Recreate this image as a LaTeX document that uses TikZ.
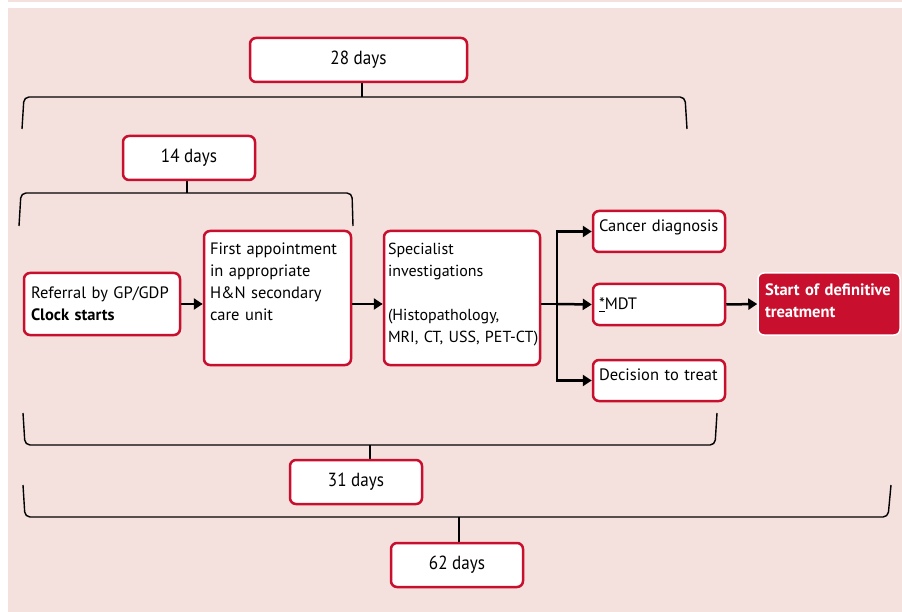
\documentclass[tikz,border=0pt]{standalone}
\usepackage{fontspec}
\setmainfont{PT Sans}
\newfontfamily\daysfont[FakeStretch=0.9]{PT Sans}
\usepackage{xcolor}
\usetikzlibrary{arrows.meta}
\definecolor{bgpink}{RGB}{244,224,220}
\definecolor{nhsred}{RGB}{200,16,46}

\begin{document}
\begin{tikzpicture}[x=1pt, y=-1pt,
    box/.style={draw=nhsred, line width=2.5pt, fill=white, rounded corners=6pt,
        inner xsep=6pt, align=left, font=\fontsize{16.5}{22}\selectfont},
    daybox/.style={box, align=center, minimum width=132pt, minimum height=44pt,
        font=\daysfont\fontsize{19}{22}\selectfont},
    brace/.style={line width=1.4pt, rounded corners=5pt},
    arr/.style={line width=2.5pt, -{Triangle[length=9pt, width=11pt]}}]
     \useasboundingbox (0,0) rectangle (902,612);
     \fill[white] (0,0) rectangle (902,612);
     \fill[bgpink] (8,0) rectangle (902,2);
     \fill[bgpink] (8,8) rectangle (902,612);

     \node[box, minimum width=156pt, minimum height=62pt, text width=142pt] (ref) at (102,304)
         {Referral by GP/GDP\\\textbf{Clock starts}};
     \node[box, minimum width=147pt, minimum height=134pt, text width=135pt, text depth=98pt] (first) at (277.5,298)
         {First appointment\\in appropriate\\H\&N secondary\\care unit};
     \node[box, inner xsep=4pt, minimum width=156pt, minimum height=134pt, text width=148pt, text depth=98pt,
         font=\fontsize{16}{22}\selectfont] (spec) at (462,298)
         {Specialist\\investigations\\~\\(Histopathology,\\\mbox{MRI, CT, USS, PET-CT)}};
     \node[box, minimum width=132pt, minimum height=41pt, text width=120pt, text depth=11pt] (cancer) at (659,231.5)
         {Cancer diagnosis};
     \node[box, minimum width=132pt, minimum height=41pt, text width=120pt] (mdt) at (659,304.5)
         {\underline{*}MDT};
     \node[box, minimum width=132pt, minimum height=41pt, text width=120pt, text depth=11pt] (dec) at (659,380.5)
         {Decision to treat};
     \node[box, draw=white, line width=1.5pt, fill=nhsred, text=white, inner xsep=7pt, minimum width=142pt,
         minimum height=62pt, text width=128pt, text depth=29pt, font=\bfseries\fontsize{16.5}{22}\selectfont] (start) at (829,304)
         {\mbox{Start of definitive}\\treatment};

     \node[daybox, minimum width=217pt] (d28) at (358.5,60) {28 days};
     \node[daybox] (d14) at (189,158) {14 days};
     \node[daybox] (d31) at (356,482) {31 days};
     \node[daybox] (d62) at (457,565) {62 days};

     \coordinate (b28) at (362,97);
     \coordinate (b14) at (187,193);
     \coordinate (b31) at (370,445);
     \coordinate (b62) at (459,517);
     \coordinate (br) at (557,304);

     \draw[brace] (22,129) -- (24,97) -- (685,97) -- (687,129);
     \draw[brace] (19,226) -- (21,193) -- (352,193) -- (353,226);
     \draw[brace] (23,413) -- (25,445) -- (715,445) -- (717,413);
     \draw[brace] (23,485) -- (25,517) -- (888,517) -- (891,485);
     \draw[line width=1.4pt] (d28.south -| b28) -- (b28);
     \draw[line width=1.4pt] (d14.south -| b14) -- (b14);
     \draw[line width=1.4pt] (d31.north -| b31) -- (b31);
     \draw[line width=1.4pt] (d62.north -| b62) -- (b62);

     \draw[arr] (ref.east) -- (ref.east -| first.west);
     \draw[arr] (ref.east -| first.east) -- (ref.east -| spec.west);
     \draw[line width=2.5pt] (br -| spec.east) -- (br);
     \draw[arr] (br) -- (mdt.west);
     \draw[arr] (br) |- (cancer.west);
     \draw[arr] (br) |- (dec.west);
     \draw[arr] (mdt.east) -- (start.west);
\end{tikzpicture}
\end{document}
